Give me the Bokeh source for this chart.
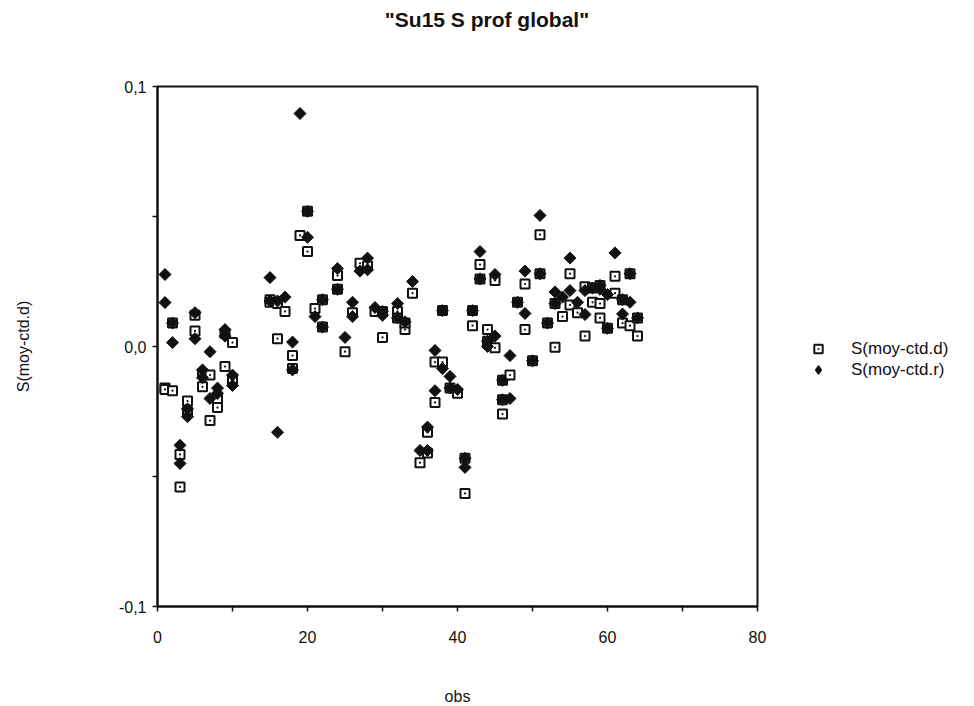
import numpy as np
from bokeh.plotting import figure
from bokeh.layouts import column
from bokeh.models import (ColumnDataSource, Div, FixedTicker, Legend,
                          LegendItem, Range1d)
from bokeh.embed import file_html
from bokeh.resources import INLINE

# S(moy-ctd.d) : open squares with a centre dot
obs_d = [1, 1, 2, 2, 3, 3, 4, 4, 5, 5, 6, 6, 7, 7, 8, 8, 9, 9, 10, 10,
         15, 15, 16, 16, 17, 18, 18, 19, 20, 20, 21, 22, 22, 24, 24, 25, 26,
         27, 28, 29, 30, 30, 32, 32, 33, 33, 34, 35, 36, 36, 37, 37, 38, 38,
         39, 40, 41, 41, 42, 42, 43, 43, 44, 44, 45, 45, 46, 46, 46, 47, 48,
         49, 49, 50, 51, 51, 52, 53, 53, 54, 55, 55, 56, 57, 57, 58, 58,
         59, 59, 59, 60, 61, 61, 62, 62, 63, 63, 64, 64]
s_moy_ctd_d = [-0.016, -0.0165, -0.017, 0.009, -0.0415, -0.054, -0.021, -0.025,
               0.012, 0.006, -0.0105, -0.0155, -0.011, -0.0285, -0.020, -0.0235,
               0.005, -0.0077, 0.0015, -0.013,
               0.018, 0.017, 0.0165, 0.003, 0.0135, -0.0035, -0.0085, 0.0427,
               0.052, 0.0365, 0.0146, 0.018, 0.0075, 0.0273, 0.022, -0.002,
               0.013, 0.032, 0.031, 0.0135, 0.0035, 0.0135, 0.0135, 0.011,
               0.0065, 0.009, 0.0205, -0.0447, -0.033, -0.041, -0.006, -0.0215,
               0.0138, -0.006, -0.016, -0.018, -0.043, -0.0565, 0.008, 0.0138,
               0.0315, 0.026, 0.0065, 0.002, 0.0254, -0.0005, -0.013, -0.0205,
               -0.026, -0.011, 0.017, 0.024, 0.0065, -0.0055, 0.043, 0.028,
               0.009, -0.0003, 0.0165, 0.0115, 0.028, 0.016, 0.013, 0.004,
               0.023, 0.0225, 0.017, 0.0235, 0.0165, 0.011, 0.007, 0.027,
               0.0205, 0.018, 0.009, 0.028, 0.008, 0.011, 0.004]

# S(moy-ctd.r) : filled diamonds
obs_r = [1, 1, 2, 2, 3, 3, 4, 4, 5, 5, 6, 6, 7, 7, 8, 8, 9, 9, 10, 10,
         15, 15, 16, 16, 17, 18, 18, 19, 20, 20, 21, 22, 22, 24, 24, 25, 26, 26,
         27, 28, 28, 29, 30, 30, 32, 32, 33, 34, 35, 36, 36, 37, 37, 38, 38,
         39, 39, 40, 41, 41, 42, 43, 43, 44, 44, 45, 45, 46, 46, 47, 47, 48,
         49, 49, 50, 51, 51, 52, 53, 53, 54, 55, 55, 56, 57, 57, 58, 59, 59,
         60, 60, 61, 62, 62, 63, 63, 64]
s_moy_ctd_r = [0.0277, 0.0169, 0.009, 0.0015, -0.038, -0.045, -0.024, -0.027,
               0.013, 0.003, -0.009, -0.012, -0.002, -0.020, -0.016, -0.018,
               0.0065, 0.004, -0.011, -0.015,
               0.0265, 0.0175, 0.0175, -0.033, 0.019, 0.0017, -0.009, 0.0896,
               0.052, 0.042, 0.0115, 0.018, 0.0075, 0.030, 0.022, 0.0035,
               0.017, 0.0115, 0.029, 0.034, 0.0295, 0.015, 0.012, 0.0135,
               0.0165, 0.011, 0.0095, 0.025, -0.040, -0.031, -0.040, -0.0015,
               -0.017, 0.0138, -0.0085, -0.0115, -0.016, -0.0165, -0.043,
               -0.0465, 0.0138, 0.0365, 0.026, 0.0, 0.002, 0.0277, 0.004,
               -0.013, -0.0205, -0.0035, -0.020, 0.017, 0.029, 0.0127, -0.0055,
               0.0504, 0.028, 0.009, 0.0165, 0.021, 0.019, 0.034, 0.0215, 0.017,
               0.0215, 0.0123, 0.0225, 0.0235, 0.022, 0.020, 0.007, 0.036,
               0.018, 0.0125, 0.028, 0.017, 0.011]

x_ticks = [0, 20, 40, 60, 80]
x_minor = [10, 30, 50, 70]
y_ticks = [-0.1, 0.0, 0.1]
y_minor = [-0.05, 0.05]
y_tick_labels = ["-0,1", "0,0", "0,1"]

FONT = "Liberation Sans"
INK = "#111111"

header = Div(text='"Su15 S prof global"', width=974, height=40,
             styles={"font-family": FONT, "font-size": "21px",
                     "font-weight": "bold", "color": INK,
                     "text-align": "center", "line-height": "40px",
                     "width": "974px", "margin": "0", "padding": "0"})

p = figure(frame_width=600, frame_height=520, output_backend="svg",
           toolbar_location=None,
           x_range=Range1d(0, 80), y_range=Range1d(-0.1, 0.1),
           min_border_left=157, min_border_right=217,
           min_border_top=46, min_border_bottom=100)
p.background_fill_color = "white"
p.border_fill_color = "white"
p.outline_line_color = INK
p.outline_line_width = 2
p.grid.visible = False

for ax in (p.xaxis[0], p.yaxis[0]):
    ax.axis_line_color = INK
    ax.axis_line_width = 2
    ax.major_tick_line_color = INK
    ax.minor_tick_line_color = INK
    ax.major_tick_line_width = 1.5
    ax.minor_tick_line_width = 1.5
    ax.major_tick_in = 0
    ax.major_tick_out = 5
    ax.minor_tick_in = 0
    ax.minor_tick_out = 5
    ax.major_label_text_font = FONT
    ax.major_label_text_font_size = "16px"
    ax.major_label_text_color = INK
    ax.axis_label_text_font = FONT
    ax.axis_label_text_font_size = "16px"
    ax.axis_label_text_font_style = "normal"
    ax.axis_label_text_color = INK

p.xaxis.ticker = FixedTicker(ticks=x_ticks, minor_ticks=x_minor)
p.yaxis.ticker = FixedTicker(ticks=y_ticks, minor_ticks=y_minor)
p.yaxis.major_label_overrides = dict(zip(y_ticks, y_tick_labels))
p.xaxis.major_label_standoff = 19
p.yaxis.major_label_standoff = 6
p.xaxis.axis_label = "obs"
p.xaxis.axis_label_standoff = 42
p.yaxis.axis_label = "S(moy-ctd.d)"
p.yaxis.axis_label_standoff = 84

src_d = ColumnDataSource(dict(x=obs_d, y=s_moy_ctd_d))
src_r = ColumnDataSource(dict(x=obs_r, y=s_moy_ctd_r))

r_d = p.scatter("x", "y", source=src_d, marker="square_dot", size=9,
                line_color=INK, line_width=2, fill_color="white")
r_r = p.scatter("x", "y", source=src_r, marker="square", angle=np.pi / 4,
                size=8.5, line_color=INK, line_width=1, fill_color=INK)
# legend swatch for the diamond series (the legend ignores marker angle);
# its single point lies outside the x range so only the legend shows it
r_r_key = p.scatter(x=[-10], y=[0], marker="diamond", size=13,
                    line_color=INK, line_width=1.5, fill_color=INK)

legend = Legend(items=[LegendItem(label="S(moy-ctd.d)", renderers=[r_d]),
                       LegendItem(label="S(moy-ctd.r)", renderers=[r_r_key])],
                location=(48, 226), border_line_color=None,
                background_fill_alpha=0, label_text_font=FONT,
                label_text_font_size="17px", label_text_color=INK,
                glyph_width=26, glyph_height=21, spacing=0,
                label_standoff=20, padding=4)
p.add_layout(legend, "right")

layout = column(header, p, spacing=0)
open("out.html", "w").write(file_html(layout, INLINE))
